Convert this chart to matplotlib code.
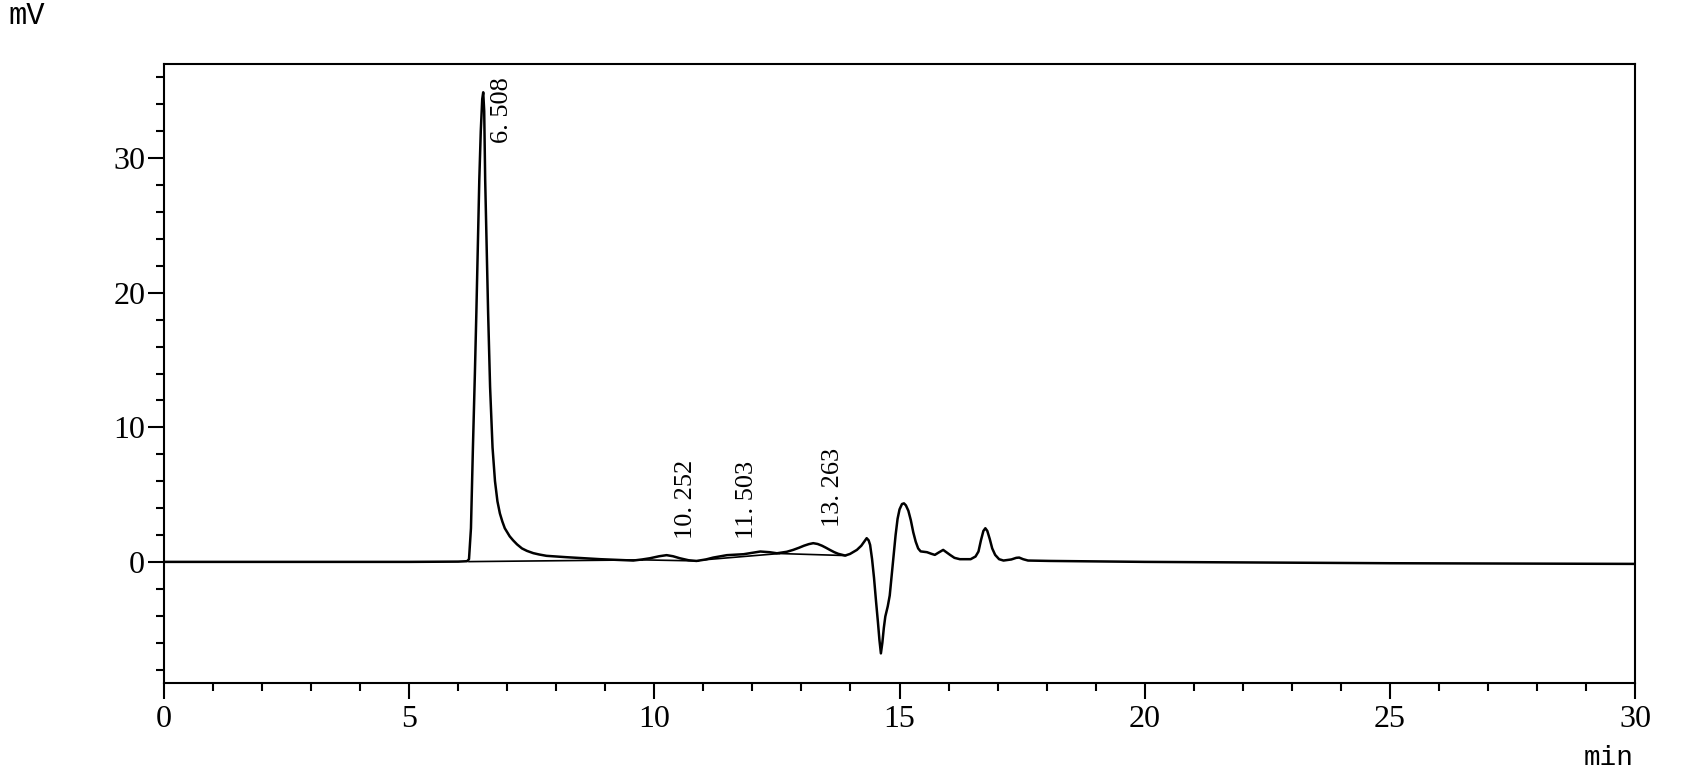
import numpy as np
import matplotlib
matplotlib.use("Agg")
import matplotlib.pyplot as plt
from matplotlib.ticker import MultipleLocator

# chromatogram trace (min, mV)
time_min = [0.0, 2.5, 5.0, 6.0, 6.18, 6.22, 6.26, 6.30, 6.34, 6.37, 6.40, 6.43,
            6.46, 6.49, 6.51, 6.53, 6.55, 6.58, 6.61, 6.65, 6.70, 6.75, 6.80,
            6.85, 6.90, 6.95, 7.00, 7.05, 7.12, 7.20, 7.30, 7.40, 7.53, 7.65,
            7.80, 8.00, 8.20, 8.90, 9.57, 9.75, 9.91, 10.10, 10.25, 10.38,
            10.52, 10.70, 10.86, 11.05, 11.20, 11.48, 11.82, 12.00, 12.16,
            12.35, 12.50, 12.70, 12.83, 12.95, 13.05, 13.15, 13.24, 13.33,
            13.42, 13.50, 13.58, 13.67, 13.75, 13.89, 13.99, 14.13, 14.22,
            14.28, 14.33, 14.37, 14.40, 14.44, 14.48, 14.52, 14.56, 14.59,
            14.62, 14.65, 14.68, 14.71, 14.76, 14.80, 14.84, 14.88, 14.92,
            14.96, 15.00, 15.05, 15.09, 15.13, 15.18, 15.23, 15.28, 15.33,
            15.38, 15.43, 15.56, 15.65, 15.72, 15.80, 15.89, 15.96, 16.03,
            16.12, 16.23, 16.45, 16.55, 16.61, 16.66, 16.71, 16.75, 16.79,
            16.84, 16.89, 16.95, 17.03, 17.12, 17.28, 17.38, 17.44, 17.52,
            17.62, 18.07, 20.0, 25.0, 30.0]
signal_mv = [0.0, 0.0, 0.0, 0.02, 0.05, 0.2, 2.5, 8.5, 14.0, 18.5, 23.5, 28.4,
             32.0, 34.4, 34.9, 33.5, 28.4, 23.5, 18.5, 13.0, 8.5, 6.0, 4.5,
             3.6, 3.0, 2.5, 2.2, 1.9, 1.6, 1.3, 1.0, 0.82, 0.65, 0.55,
             0.45, 0.4, 0.35, 0.2, 0.1, 0.18, 0.27, 0.42, 0.5, 0.42,
             0.27, 0.12, 0.07, 0.18, 0.32, 0.5, 0.57, 0.68, 0.77,
             0.72, 0.64, 0.75, 0.89, 1.05, 1.2, 1.32, 1.39, 1.33,
             1.2, 1.05, 0.89, 0.72, 0.6, 0.47, 0.59, 0.89, 1.2,
             1.5, 1.76, 1.6, 1.26, 0.2, -1.2, -2.9, -4.5, -5.8,
             -6.8, -6.0, -4.9, -4.06, -3.3, -2.5, -1.0, 0.5, 2.0,
             3.2, 3.9, 4.3, 4.35, 4.2, 3.8, 3.1, 2.2, 1.5,
             1.0, 0.78, 0.72, 0.6, 0.52, 0.7, 0.89, 0.7, 0.52,
             0.3, 0.2, 0.2, 0.4, 0.77, 1.6, 2.3, 2.5, 2.3,
             1.7, 1.0, 0.52, 0.2, 0.1, 0.18, 0.3, 0.32, 0.2,
             0.1, 0.07, 0.0, -0.1, -0.15]

# integration baselines drawn under the peaks
base_start_t = [6.22, 9.75, 11.0, 12.55]
base_start_v = [0.02, 0.15, 0.15, 0.62]
base_end_t = [9.75, 10.9, 12.55, 13.9]
base_end_v = [0.15, 0.07, 0.62, 0.47]

# retention-time labels
peak_times = [6.508, 10.252, 11.503, 13.263]
peak_heights = [34.9, 0.5, 0.5, 1.39]
peak_labels = ["6. 508", "10. 252", "11. 503", "13. 263"]

fig = plt.figure(figsize=(16.82, 7.77), dpi=100)
ax = fig.add_axes([0.0975, 0.121, 0.8746, 0.7966])

ax.plot(time_min, signal_mv, color="black", lw=1.8, solid_joinstyle="round")
for t0, v0, t1, v1 in zip(base_start_t, base_start_v, base_end_t, base_end_v):
    ax.plot([t0, t1], [v0, v1], color="black", lw=1.2)

ymin, ymax = -9, 37
for t, h, lab in zip(peak_times, peak_heights, peak_labels):
    y = min(h + 1.2, ymax - 5.9)
    ax.text(t + 0.39, y, lab, rotation=90, ha="center", va="bottom",
            fontsize=19, family="Liberation Serif")

ax.set_xlim(0, 30)
ax.set_ylim(ymin, ymax)
ax.xaxis.set_major_locator(MultipleLocator(5))
ax.xaxis.set_minor_locator(MultipleLocator(1))
ax.yaxis.set_major_locator(MultipleLocator(10))
ax.yaxis.set_minor_locator(MultipleLocator(2))
ax.tick_params(which="both", direction="out", width=1.5, top=False, right=False)
ax.tick_params(which="major", length=11.5, labelsize=23)
ax.tick_params(which="minor", length=5.8)
ax.tick_params(axis="x", which="major", pad=4)
ax.tick_params(axis="y", which="major", pad=2)
for lbl in ax.get_xticklabels() + ax.get_yticklabels():
    lbl.set_family("Liberation Serif")
for sp in ax.spines.values():
    sp.set_linewidth(1.5)

fig.text(8 / 1682, 1 - 24 / 777, "mV", fontsize=22, family="Liberation Mono",
         ha="left", va="baseline")
fig.text(1634 / 1682, 1 - 765 / 777, "min", fontsize=20, family="Liberation Mono",
         ha="right", va="baseline")

fig.savefig("out.png", dpi=100, facecolor="white")
